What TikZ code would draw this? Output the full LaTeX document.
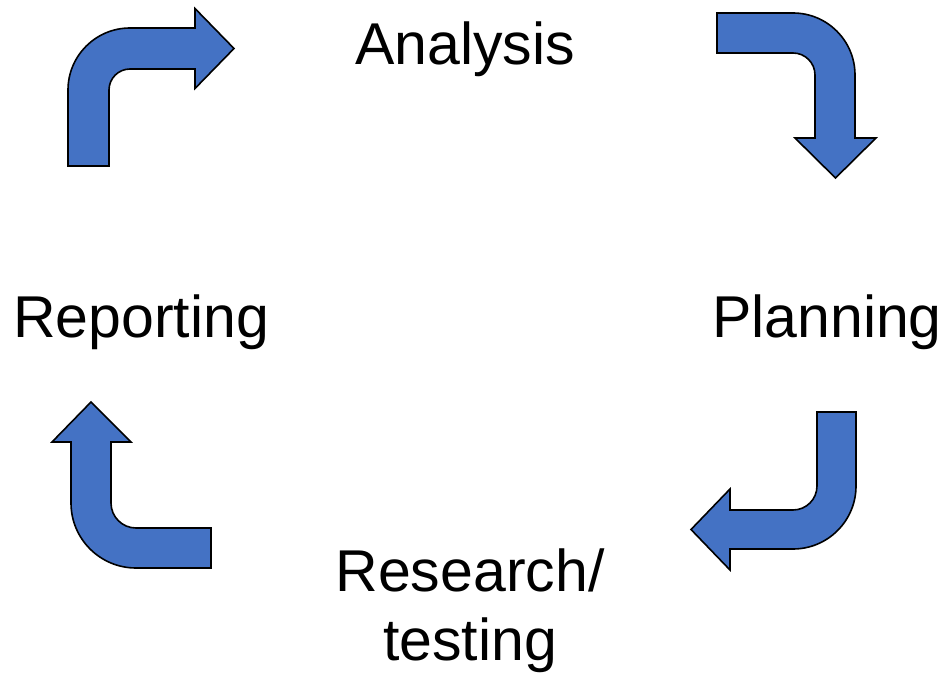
\documentclass[tikz,border=0pt]{standalone}
\usepackage{fontspec}
\setmainfont{Liberation Sans}
\definecolor{accent}{HTML}{4472C4}
\begin{document}
\begin{tikzpicture}[x=1pt,y=-1pt,
  bent/.style={fill=accent,draw=black,line width=1.6pt,line join=miter},
  lbl/.style={inner sep=0pt,anchor=base,font=\fontsize{59}{71}\selectfont}]
\useasboundingbox (0,0) rectangle (945,674);
% top-left arrow (pointing right)
\draw[bent] (68,166) -- (68,90) arc[start angle=180,end angle=270,radius=62]
  -- (195,28) -- (195,8.5) -- (234,48.5) -- (195,88.5) -- (195,69) -- (130,69)
  arc[start angle=270,end angle=180,radius=21] -- (109,166) -- cycle;
% top-right arrow (pointing down)
\draw[bent] (717,13) -- (793,13) arc[start angle=270,end angle=360,radius=62]
  -- (855,138) -- (876,138) -- (835.5,178) -- (795,138) -- (815,138) -- (815,75)
  arc[start angle=0,end angle=-90,radius=22] -- (717,53) -- cycle;
% bottom-right arrow (pointing left)
\draw[bent] (817,412) -- (856,412) -- (856,486) arc[start angle=0,end angle=90,radius=63]
  -- (730,549) -- (730,570) -- (691,529.5) -- (730,489) -- (730,510) -- (793,510)
  arc[start angle=90,end angle=0,radius=24] -- cycle;
% bottom-left arrow (pointing up)
\draw[bent] (211,528) -- (136,528) arc[start angle=90,end angle=180,radius=25]
  -- (111,442) -- (131,442) -- (91,402) -- (52,442) -- (71,442) -- (71,503)
  arc[start angle=180,end angle=90,radius=65] -- (211,568) -- cycle;
% labels
\node[lbl] (analysis) at (465,65) {Analysis};
\node[lbl] (planning) at (827,337) {Planning};
\node[lbl] (reporting) at (141,337) {Reporting};
\node[lbl] (research) at (470,591) {Research/};
\node[lbl] (testing) at (470,660) {testing};
\end{tikzpicture}
\end{document}
